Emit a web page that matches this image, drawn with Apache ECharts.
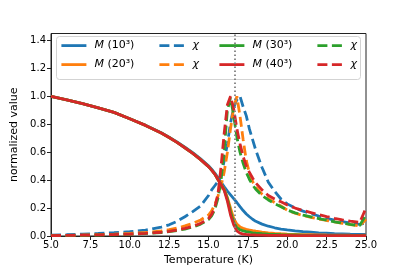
<!DOCTYPE html>
<html>
<head>
<meta charset="utf-8">
<script src="https://cdn.jsdelivr.net/npm/echarts@6/dist/echarts.min.js"></script>
<style>html,body{margin:0;padding:0;background:#fff}#c{width:407px;height:271px}</style>
</head>
<body>
<div id="c"></div>
<script>
const temperature = [5,6,7,8,9,10,11,12,12.5,13,13.5,14,14.5,15,15.2,15.4,15.6,15.8,16,16.2,16.4,16.6,16.8,17,17.2,17.4,17.6,17.8,18,18.4,18.8,19.2,19.6,20,20.5,21,21.5,22,22.5,23,23.5,24,24.6,25];

const M10 = [1.000,0.975,0.948,0.918,0.885,0.84,0.793,0.739,0.707,0.673,0.636,0.597,0.553,0.503,0.479,0.451,0.418,0.385,0.352,0.322,0.295,0.268,0.24,0.21,0.182,0.158,0.138,0.12,0.105,0.085,0.07,0.059,0.05,0.044,0.037,0.031,0.027,0.023,0.02,0.017,0.015,0.013,0.011,0.012];
const chi10 = [0.006,0.009,0.013,0.018,0.024,0.031,0.042,0.063,0.08,0.105,0.138,0.175,0.215,0.29,0.33,0.36,0.39,0.44,0.54,0.66,0.81,0.92,0.975,1.0,0.925,0.86,0.765,0.69,0.615,0.49,0.385,0.32,0.265,0.23,0.2,0.178,0.16,0.143,0.127,0.114,0.103,0.093,0.083,0.095];
const M20 = [1.000,0.975,0.948,0.918,0.885,0.84,0.792,0.737,0.705,0.67,0.632,0.592,0.547,0.497,0.472,0.443,0.405,0.372,0.335,0.275,0.2,0.125,0.085,0.065,0.055,0.048,0.043,0.038,0.034,0.028,0.023,0.019,0.016,0.014,0.012,0.01,0.009,0.008,0.007,0.0065,0.006,0.0055,0.005,0.006];
const chi20 = [0.003,0.005,0.007,0.01,0.013,0.018,0.025,0.036,0.045,0.057,0.072,0.09,0.115,0.15,0.18,0.225,0.285,0.36,0.46,0.6,0.77,0.92,1.0,0.86,0.69,0.54,0.45,0.39,0.35,0.3,0.268,0.24,0.215,0.185,0.163,0.147,0.134,0.122,0.111,0.101,0.091,0.082,0.072,0.12];
const M30 = [1.000,0.975,0.948,0.918,0.885,0.84,0.792,0.737,0.705,0.67,0.632,0.592,0.547,0.497,0.472,0.443,0.405,0.37,0.33,0.265,0.175,0.095,0.06,0.045,0.037,0.031,0.027,0.023,0.02,0.016,0.013,0.011,0.009,0.008,0.007,0.006,0.005,0.005,0.004,0.004,0.004,0.004,0.004,0.004];
const chi30 = [0.002,0.003,0.005,0.007,0.009,0.012,0.017,0.025,0.031,0.039,0.05,0.064,0.085,0.118,0.145,0.19,0.27,0.4,0.62,0.9,0.99,0.86,0.71,0.6,0.52,0.455,0.405,0.365,0.335,0.29,0.258,0.232,0.21,0.186,0.166,0.15,0.137,0.125,0.113,0.102,0.092,0.083,0.074,0.155];
const M40 = [1.000,0.975,0.948,0.918,0.885,0.84,0.792,0.737,0.705,0.67,0.632,0.592,0.547,0.497,0.472,0.443,0.405,0.368,0.325,0.25,0.15,0.08,0.036,0.02,0.014,0.011,0.009,0.008,0.007,0.006,0.005,0.004,0.004,0.004,0.003,0.003,0.003,0.003,0.003,0.003,0.003,0.003,0.003,0.003];
const chi40 = [0.003,0.004,0.006,0.008,0.01,0.013,0.019,0.027,0.033,0.042,0.054,0.069,0.09,0.125,0.155,0.205,0.3,0.5,0.74,0.94,1.0,0.91,0.77,0.66,0.57,0.5,0.455,0.415,0.38,0.33,0.29,0.265,0.245,0.222,0.2,0.183,0.168,0.153,0.139,0.127,0.116,0.106,0.097,0.2];

const Tc = 16.68;
const xTicks = [5,7.5,10,12.5,15,17.5,20,22.5,25];
const yTicks = [0,0.2,0.4,0.6,0.8,1.0,1.2,1.4];
const seriesNames = ['M (10³)','χ ','M (20³)','χ  ','M (30³)','χ   ','M (40³)','χ    '];
const colors = ['#1f77b4','#1f77b4','#ff7f0e','#ff7f0e','#2ca02c','#2ca02c','#d62728','#d62728'];
const seriesData = [M10, chi10, M20, chi20, M30, chi30, M40, chi40];

const FONT = 'DejaVu Sans';
const chart = echarts.init(document.getElementById('c'), null, {renderer:'canvas'});

const series = seriesData.map((arr, i) => {
  const dashed = i % 2 === 1;
  const s = {
    name: seriesNames[i],
    type: 'line',
    data: temperature.map((t, k) => [t, arr[k]]),
    symbol: 'none',
    showSymbol: false,
    smooth: false,
    animation: false,
    lineStyle: {color: colors[i], width: 2.8, type: dashed ? [10, 4.5] : 'solid', cap: 'butt'},
    itemStyle: {color: colors[i]},
    z: 2 + i * 0.01
  };
  if (i === 0) {
    s.markLine = {
      silent: true, symbol: ['none','none'], label: {show: false},
      lineStyle: {color: '#7f7f7f', type: [1.6, 2.4], width: 1.8},
      data: [{xAxis: Tc}], animation: false
    };
  }
  return s;
});

const colX = [60, 158, 218, 316];
const rowY = [40, 59];
const legendOrder = [[0,0,0],[1,1,0],[4,2,0],[5,3,0],[2,0,1],[3,1,1],[6,2,1],[7,3,1]];
const legends = legendOrder.map(([si, c, r]) => ({
  data: [seriesNames[si]],
  left: colX[c], top: rowY[r],
  padding: 0,
  itemWidth: 25, itemHeight: 14,
  itemGap: 0,
  selectedMode: false,
  itemStyle: {opacity: 0, borderWidth: 0},
  lineStyle: {width: 2.8},
  formatter: function (name) {
    const first = name.charAt(0);
    return '{i|' + first + '}{n|' + name.slice(1).trimEnd() + '}';
  },
  textStyle: {
    fontFamily: FONT, fontSize: 11, color: '#000', padding: [0,0,0,3],
    rich: {
      i: {fontFamily: FONT, fontSize: 11, fontStyle: 'italic', color: '#000'},
      n: {fontFamily: FONT, fontSize: 11, color: '#000'}
    }
  }
}));

chart.setOption({
  animation: false,
  backgroundColor: '#fff',
  grid: {left: 51, right: 41, top: 33.5, bottom: 34, show: true, borderColor: '#222', borderWidth: 1, backgroundColor: 'transparent'},
  legend: legends,
  graphic: [{
    type: 'rect', z: 3, silent: true,
    shape: {x: 56.5, y: 36.5, width: 304, height: 43, r: 3},
    style: {fill: 'rgba(255,255,255,0.8)', stroke: '#d3d3d3', lineWidth: 1}
  }],
  xAxis: {
    type: 'value', min: 5, max: 25, interval: 2.5,
    name: 'Temperature (K)', nameLocation: 'middle', nameGap: 19,
    nameTextStyle: {fontFamily: FONT, fontSize: 11, color: '#000'},
    axisLine: {show: true, onZero: false, lineStyle: {color: '#222', width: 1}},
    axisTick: {show: true, inside: false, length: 4, lineStyle: {color: '#222'}, customValues: xTicks},
    axisLabel: {fontFamily: FONT, fontSize: 10, color: '#000', margin: 4, customValues: xTicks,
      formatter: v => Number(v).toFixed(1)},
    splitLine: {show: false}
  },
  yAxis: {
    type: 'value', min: 0, max: 1.45,
    name: 'normalized value', nameLocation: 'middle', nameGap: 31,
    nameTextStyle: {fontFamily: FONT, fontSize: 11, color: '#000'},
    axisLine: {show: true, onZero: false, lineStyle: {color: '#222', width: 1}},
    axisTick: {show: true, inside: false, length: 4, lineStyle: {color: '#222'}, customValues: yTicks},
    axisLabel: {fontFamily: FONT, fontSize: 10, color: '#000', margin: 5, customValues: yTicks,
      formatter: v => Number(v).toFixed(1)},
    splitLine: {show: false}
  },
  series: series
});
</script>
</body>
</html>
